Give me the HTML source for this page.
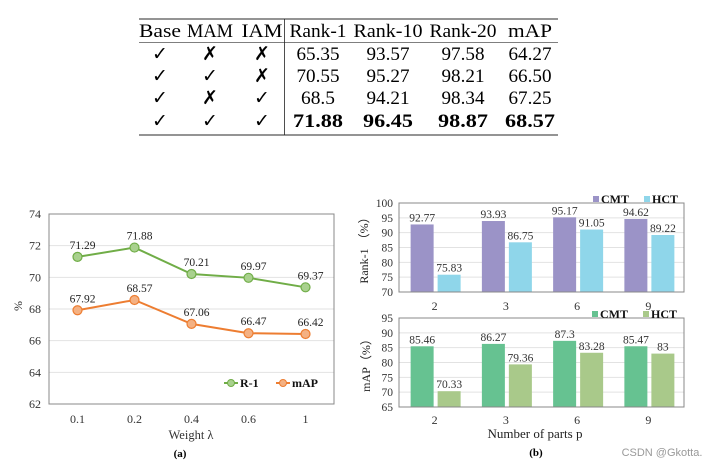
<!DOCTYPE html>
<html><head><meta charset="utf-8">
<style>
html,body{margin:0;padding:0;background:#fff;}
svg{display:block;}
.serif{font-family:"Liberation Serif",serif;}
</style></head>
<body>
<svg id="root" width="725" height="465" viewBox="0 0 725 465" xmlns="http://www.w3.org/2000/svg" class="serif">
  <g id="table"></g>
  <g id="lineChart"></g>
  <g id="barTop"></g>
  <g id="barBot"></g>
  <text x="180" y="457" font-size="11" font-weight="bold" text-anchor="middle">(a)</text>
  <text x="536" y="456" font-size="11" font-weight="bold" text-anchor="middle">(b)</text>
  <text x="662" y="456" font-size="11" fill="#999" text-anchor="middle" font-family="Liberation Sans, sans-serif">CSDN @Gkotta.</text>
</svg>
<script>
const NS="http://www.w3.org/2000/svg";
function mk(parent,tag,attrs,text){const e=document.createElementNS(NS,tag);for(const k in attrs)e.setAttribute(k,attrs[k]);if(text!==undefined)e.textContent=text;parent.appendChild(e);return e;}

// ---------- Table data ----------
const tableHeaders=["Base","MAM","IAM","Rank-1","Rank-10","Rank-20","mAP"];
const tableMarks=[["✓","✗","✗"],["✓","✓","✗"],["✓","✗","✓"],["✓","✓","✓"]];
const tableValues=[["65.35","93.57","97.58","64.27"],["70.55","95.27","98.21","66.50"],["68.5","94.21","98.34","67.25"],["71.88","96.45","98.87","68.57"]];

// ---------- Line chart data ----------
const lineCategories=["0.1","0.2","0.4","0.6","1"];
const r1Values=[71.29,71.88,70.21,69.97,69.37];
const mapLineValues=[67.92,68.57,67.06,66.47,66.42];
const lineTicks=[62,64,66,68,70,72,74];

// ---------- Bar chart data ----------
const partCategories=["2","3","6","9"];
const rank1CMT=[92.77,93.93,95.17,94.62];
const rank1HCT=[75.83,86.75,91.05,89.22];
const mapCMT=[85.46,86.27,87.3,85.47];
const mapHCT=[70.33,79.36,83.28,83];
const rankTicks=[70,75,80,85,90,95,100];
const mapTicks=[65,70,75,80,85,90,95];

// ---------- Table ----------
(function(){
  const g=document.getElementById('table');
  const colX=[160,210,262,318,388,463,530];
  const headW=[42,46,41,57,69,67,44];
  let r=mk(g,'line',{x1:139,x2:558,y1:19,y2:19,stroke:'#555','stroke-width':1.2});
  
  r=mk(g,'line',{x1:139,x2:558,y1:42.5,y2:42.5,stroke:'#555','stroke-width':0.8});
  
  r=mk(g,'line',{x1:139,x2:558,y1:135,y2:135,stroke:'#555','stroke-width':1.2});
  
  r=mk(g,'line',{x1:284.5,x2:284.5,y1:19,y2:135,stroke:'#222','stroke-width':0.8});
  
  tableHeaders.forEach((h,i)=>{
    const t=mk(g,'text',{x:colX[i],y:37,'font-size':18.5,'text-anchor':'middle',textLength:headW[i],lengthAdjust:'spacingAndGlyphs'},h);
    
  });
  const rowY=[60,82,104,127];
  tableMarks.forEach((row,ri)=>{
    row.forEach((m,ci)=>{
      const t=mk(g,'text',{x:colX[ci],y:rowY[ri],'font-size':19,'font-weight':'bold','text-anchor':'middle','font-family':'DejaVu Sans, sans-serif'},m);
      
    });
    tableValues[ri].forEach((v,ci)=>{
      const w=(v.length===4?34:43)*(ri===3?1.16:1);
      const a={x:colX[ci+3],y:rowY[ri],'font-size':18.5,'text-anchor':'middle',textLength:w,lengthAdjust:'spacingAndGlyphs'};
      if(ri===3)a['font-weight']='bold';
      const t=mk(g,'text',a,v);
      
    });
  });
})();

// ---------- Line chart ----------
(function(){
  const g=document.getElementById('lineChart');
  const L=49,R=334,T=214,B=404,ymin=62,ymax=74;
  const y=v=>B-(v-ymin)/(ymax-ymin)*(B-T);
  const bw=(R-L)/lineCategories.length;
  const x=i=>L+bw*(i+0.5);
  lineTicks.forEach(t=>{
    if(t!==ymin&&t!==ymax){const gl=mk(g,'line',{x1:L,x2:R,y1:y(t),y2:y(t),stroke:'#e2e2e2','stroke-width':1});
      }
    const tl=mk(g,'text',{x:41,y:y(t)+4,'font-size':12,'text-anchor':'end',fill:'#333'},t);
    
  });
  const box=mk(g,'rect',{x:L,y:T,width:R-L,height:B-T,fill:'none',stroke:'#888','stroke-width':1});
  
  lineCategories.forEach((c,i)=>{
    const tl=mk(g,'text',{x:x(i),y:423,'font-size':12,'text-anchor':'middle',fill:'#333'},c);
    
  });
  const xt=mk(g,'text',{x:191,y:439,'font-size':12.5,'text-anchor':'middle',fill:'#333'},'Weight λ');
  
  const yt=mk(g,'text',{x:0,y:0,'font-size':12,'text-anchor':'middle',fill:'#333',transform:'translate(22,306) rotate(-90)'},'%');
  
  function series(vals,stroke,fill,name){
    const pts=vals.map((v,i)=>x(i)+','+y(v)).join(' ');
    const pl=mk(g,'polyline',{points:pts,fill:'none',stroke:stroke,'stroke-width':2});
    
    vals.forEach((v,i)=>{
      const c=mk(g,'circle',{cx:x(i),cy:y(v),r:4.5,fill:fill,stroke:stroke,'stroke-width':1.2});
      
      const t=mk(g,'text',{x:x(i)+5,y:y(v)-8,'font-size':11.5,'text-anchor':'middle',fill:'#222'},v.toFixed(2));
      
    });
  }
  series(r1Values,'#70ad47','#a9d18e','r1');
  series(mapLineValues,'#ed7d31','#f4b183','map');
  function leg(x0,stroke,fill,label,name){
    const l=mk(g,'line',{x1:x0,x2:x0+14,y1:383,y2:383,stroke:stroke,'stroke-width':2});
    
    const c=mk(g,'circle',{cx:x0+7,cy:383,r:3.5,fill:fill,stroke:stroke,'stroke-width':1});
    
    const t=mk(g,'text',{x:x0+16,y:387,'font-size':12,'font-weight':'bold',fill:'#111'},label);
    
  }
  leg(224,'#70ad47','#a9d18e','R-1','r1');
  leg(276,'#ed7d31','#f4b183','mAP','map');
})();

// ---------- Bar charts ----------
function barChart(gid,T,B,ticks,s1,s2,c1,c2,yTitle,titleX,legY,leg1X,leg2X,catY,name){
  const g=document.getElementById(gid);
  const L=399,R=684,ymin=ticks[0],ymax=ticks[ticks.length-1];
  const y=v=>B-(v-ymin)/(ymax-ymin)*(B-T);
  const bw=(R-L)/partCategories.length;
  ticks.forEach(t=>{
    if(t!==ymin&&t!==ymax){const gl=mk(g,'line',{x1:L,x2:R,y1:y(t),y2:y(t),stroke:'#e2e2e2','stroke-width':1});
      }
    const tl=mk(g,'text',{x:393,y:y(t)+4,'font-size':11.5,'text-anchor':'end',fill:'#333'},t);
    
  });
  partCategories.forEach((c,i)=>{
    const cx=L+bw*(i+0.5);
    [[s1,c1,'cmt'],[s2,c2,'hct']].forEach(([s,col,n],k)=>{
      const bx=cx-24+k*27;
      const r=mk(g,'rect',{x:bx,y:y(s[i]),width:23,height:B-y(s[i]),fill:col});
      
      const t=mk(g,'text',{x:bx+11.5,y:y(s[i])-3,'font-size':11.5,'text-anchor':'middle',fill:'#333'},String(s[i]));
      
    });
    const tl=mk(g,'text',{x:cx,y:catY,'font-size':12,'text-anchor':'middle',fill:'#333'},c);
    
  });
  const box=mk(g,'rect',{x:L,y:T,width:R-L,height:B-T,fill:'none',stroke:'#888','stroke-width':1});
  
  const yt=mk(g,'text',{x:0,y:0,'font-size':12,'text-anchor':'middle',fill:'#222',transform:'translate('+titleX+','+((T+B)/2)+') rotate(-90)'},yTitle);
  
  [[leg1X,c1,'CMT','cmt'],[leg2X,c2,'HCT','hct']].forEach(([lx,col,lab,n])=>{
    const s=mk(g,'rect',{x:lx,y:legY-7,width:6,height:6,fill:col});
    
    const t=mk(g,'text',{x:lx+8,y:legY,'font-size':12,'font-weight':'bold',fill:'#111'},lab);
    
  });
}
barChart('barTop',203,292,rankTicks,rank1CMT,rank1HCT,'#9b93c7','#8fd6ea','Rank-1 （%）',368,203,593,644,310,'rank1');
barChart('barBot',318,407,mapTicks,mapCMT,mapHCT,'#66c291','#a9c98a','mAP（%）',370,318,592,643,424,'map');
(function(){
  const g=document.getElementById('barBot');
  const t=mk(g,'text',{x:535,y:438,'font-size':13,'text-anchor':'middle',fill:'#222'},'Number of parts p');
  
})();
</script>
</body></html>
